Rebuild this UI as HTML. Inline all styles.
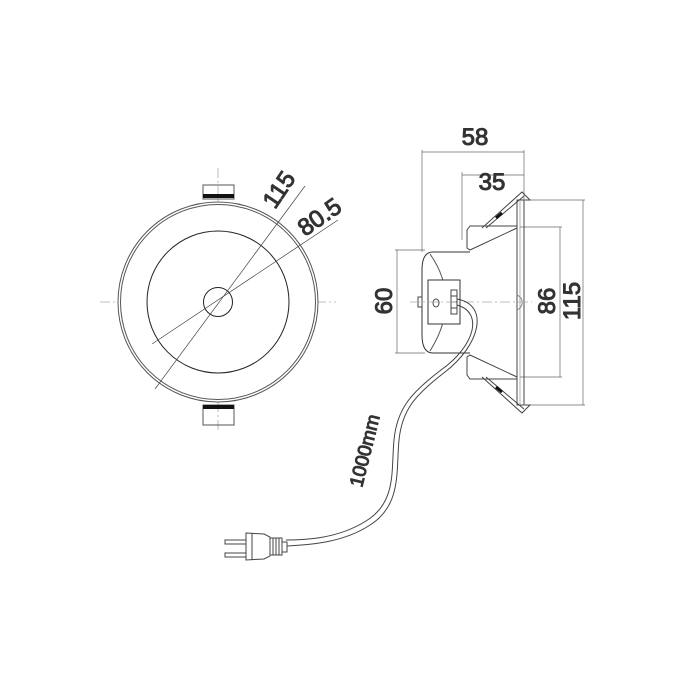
<!DOCTYPE html>
<html><head><meta charset="utf-8"><style>
html,body{margin:0;padding:0;background:#fff;width:700px;height:700px;overflow:hidden}
svg text{font-family:"Liberation Sans",sans-serif;fill:#333}
</style></head><body>
<svg width="700" height="700" viewBox="0 0 700 700" fill="none" stroke="#333" stroke-width="1">
<!-- FRONT VIEW -->
<g stroke="#aaa" stroke-width="0.8" stroke-dasharray="10,3,2,3">
<line x1="100" y1="302" x2="336" y2="302"/>
<line x1="218" y1="168" x2="218" y2="432"/>
</g>
<rect x="203" y="185" width="31" height="14" stroke="#555"/>
<rect x="203" y="194" width="31" height="4" fill="#111" stroke="none"/>
<rect x="203" y="405" width="31" height="20" stroke="#555"/>
<rect x="203" y="405" width="31" height="4" fill="#111" stroke="none"/>
<circle cx="218" cy="302" r="100" fill="#fff" stroke="#555"/>
<circle cx="218" cy="302" r="97.5" stroke="#555"/>
<circle cx="218" cy="302" r="71" stroke="#222"/>
<circle cx="218" cy="302" r="14.5" stroke="#222"/>
<g stroke="#444" stroke-width="0.7">
<line x1="155" y1="389" x2="305" y2="186"/>
<line x1="152" y1="344" x2="338" y2="220"/>
</g>
<text x="0" y="0" font-size="24" transform="translate(275,210) rotate(-56)">115</text>
<text x="0" y="0" font-size="24" transform="translate(305,237) rotate(-35)">80.5</text>

<!-- SIDE VIEW -->
<g stroke="#666" stroke-width="0.7">
<line x1="422" y1="150" x2="422" y2="252"/>
<line x1="462" y1="172" x2="462" y2="240"/>
<line x1="524" y1="150" x2="524" y2="200"/>
<line x1="422" y1="152" x2="524" y2="152"/>
<line x1="462" y1="175" x2="524" y2="175"/>
<line x1="395" y1="250" x2="425" y2="250"/>
<line x1="395" y1="353" x2="425" y2="353"/>
<line x1="397" y1="250" x2="397" y2="353"/>
<line x1="520" y1="227" x2="562" y2="227"/>
<line x1="520" y1="377" x2="562" y2="377"/>
<line x1="560" y1="227" x2="560" y2="377"/>
<line x1="524" y1="200" x2="585" y2="200"/>
<line x1="524" y1="405" x2="585" y2="405"/>
<line x1="583" y1="200" x2="583" y2="405"/>
</g>
<text x="475" y="145" font-size="24" text-anchor="middle">58</text>
<text x="492" y="190" font-size="24" text-anchor="middle">35</text>
<text font-size="24" text-anchor="middle" transform="translate(392,301) rotate(-90)">60</text>
<text font-size="24" text-anchor="middle" transform="translate(555,301) rotate(-90)">86</text>
<text font-size="24" text-anchor="middle" transform="translate(580,301) rotate(-90)">115</text>

<rect x="517" y="200" width="7" height="205" stroke="#444"/>
<line x1="520" y1="201" x2="520" y2="404" stroke="#777" stroke-width="0.6"/>
<path d="M517 295 A8 8 0 0 1 517 310" stroke="#888"/>
<path d="M517 226 L470 226 L467 230 L467 248 L470 250 L517 228" stroke="#444"/>
<path d="M517 379 L470 379 L467 375 L467 357 L470 355 L517 377" stroke="#444"/>
<path d="M482 228 L522 192 L530 200 L525 200" stroke="#444"/>
<path d="M486 228 L524 196" stroke="#444"/>
<path d="M496 218 L502 213" stroke="#111" stroke-width="3"/>
<path d="M482 377 L522 413 L530 405 L525 405" stroke="#444"/>
<path d="M486 377 L524 409" stroke="#444"/>
<path d="M496 387 L502 392" stroke="#111" stroke-width="3"/>
<path d="M470 252 L433 252 Q422 252 422 270 L422 335 Q422 353 433 353 L470 353" fill="#fff" stroke="#333"/>
<path d="M430 254 Q462 300 430 351" stroke="#555"/>
<rect x="428" y="280" width="32" height="44" stroke="#333" fill="#fff"/>
<ellipse cx="436" cy="303" rx="3" ry="4" stroke="#444"/>
<rect x="418" y="297" width="4" height="10" stroke="#444"/>
<rect x="451" y="290" width="6" height="24" stroke="#444"/>
<line x1="451" y1="296" x2="457" y2="296" stroke="#444"/><line x1="451" y1="302" x2="457" y2="302" stroke="#444"/><line x1="451" y1="308" x2="457" y2="308" stroke="#444"/>
<line x1="410" y1="302" x2="532" y2="302" stroke="#aaa" stroke-width="0.8" stroke-dasharray="10,3,2,3"/>
<g stroke="#444" stroke-width="1">
<path d="M457 299 C490 305 480 345 445 372 C415 395 402 410 399 440 C396 470 402 505 370 525 C340 545 300 545 286 546"/>
<path d="M457 305 C483 312 476 345 441 370 C412 392 397 408 394 440 C391 470 397 502 366 521 C336 540 300 540 286 540"/>
</g>
<text font-size="19" transform="translate(362,488) rotate(-76)">1000mm</text>
<g stroke="#444" stroke-width="1" fill="#fff">
<path d="M246 533 L264 534 L270 537 L270 556 L264 559 L246 560 Z"/>
<line x1="252" y1="533" x2="252" y2="560"/>
<rect x="270" y="538" width="12" height="17"/>
<line x1="273" y1="538" x2="273" y2="555"/><line x1="276" y1="538" x2="276" y2="555"/><line x1="279" y1="538" x2="279" y2="555"/>
<rect x="282" y="542" width="5" height="10"/>
<rect x="225" y="540" width="21" height="4"/>
<rect x="225" y="553" width="21" height="4"/>
</g>
</svg>
</body></html>
